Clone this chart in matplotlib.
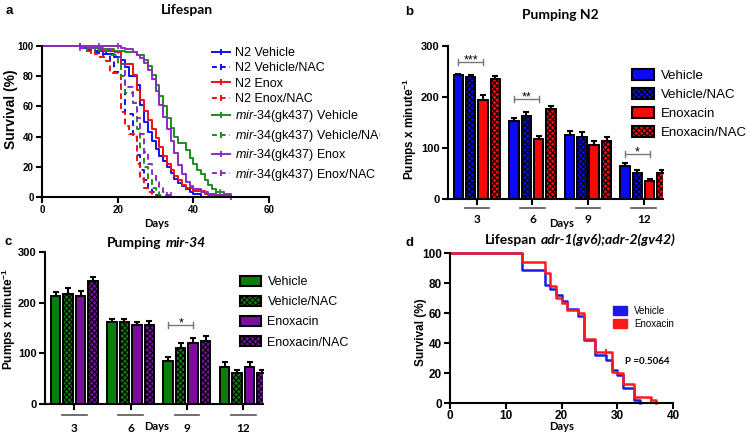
import matplotlib
matplotlib.use('Agg')
import matplotlib.pyplot as plt
import matplotlib.transforms as mtrans
from matplotlib.lines import Line2D
from matplotlib.patches import Patch, Rectangle
from matplotlib.offsetbox import TextArea, HPacker, AnnotationBbox
import numpy as np

plt.rcParams['font.family'] = ['Liberation Sans', 'DejaVu Sans']
plt.rcParams['mathtext.fontset'] = 'custom'
plt.rcParams['mathtext.it'] = 'Liberation Sans:italic'
plt.rcParams['mathtext.rm'] = 'Liberation Sans'
plt.rcParams['mathtext.bf'] = 'Liberation Sans:bold'
plt.rcParams['hatch.linewidth'] = 0.8

# ---------------- data: panel a (lifespan, Kaplan-Meier steps) -------------
a_labels = ["N2 Vehicle", "N2 Vehicle/NAC", "N2 Enox", "N2 Enox/NAC",
            r"$\mathit{mir}$-$\mathit{34}$(gk437) Vehicle",
            r"$\mathit{mir}$-$\mathit{34}$(gk437) Vehicle/NAC",
            r"$\mathit{mir}$-$\mathit{34}$(gk437) Enox",
            r"$\mathit{mir}$-$\mathit{34}$(gk437) Enox/NAC"]
n2_veh_t = [0, 11, 14, 17, 19, 21, 22, 23, 25, 26, 27, 28, 29, 30, 31, 32, 33, 34, 35, 36, 37, 38, 39, 40, 42]
n2_veh_s = [100, 99, 97, 95, 93, 91, 86, 80, 74, 61, 50, 43, 37, 32, 27, 24, 20, 16, 12, 9, 7, 5, 3, 2, 0]
n2_vnac_t = [0, 11, 13, 15, 18, 19, 21, 22, 24, 25, 26, 27, 28, 29, 30, 31]
n2_vnac_s = [100, 98, 96, 95, 90, 83, 71, 55, 40, 28, 18, 11, 6, 3, 1, 0]
n2_enox_t = [0, 12, 16, 20, 21, 24, 25, 26, 27, 28, 29, 30, 31, 32, 33, 34, 35, 36, 37, 38, 40, 43, 46, 48]
n2_enox_s = [100, 99, 97, 96, 88, 81, 71, 64, 57, 51, 45, 39, 33, 27, 22, 18, 14, 11, 8, 6, 4, 2, 1, 0]
n2_enac_t = [0, 12, 14, 15, 17, 18, 21, 22, 23, 25, 26, 27, 28, 29, 30]
n2_enac_s = [100, 97, 95, 93, 90, 82, 56, 47, 42, 22, 12, 6, 3, 1, 0]
m34_veh_t = [0, 12, 15, 19, 22, 25, 27, 28, 29, 30, 31, 32, 33, 34, 35, 36, 38, 39, 40, 41, 42, 43, 44, 45, 46, 48, 50]
m34_veh_s = [100, 99, 98, 97, 96, 94, 91, 87, 81, 74, 67, 60, 52, 46, 40, 36, 31, 26, 22, 18, 15, 11, 8, 5, 3, 2, 0]
m34_vnac_t = [0, 12, 15, 18, 20, 21, 22, 24, 25, 26, 27, 28, 29, 30, 31, 33]
m34_vnac_s = [100, 99, 97, 94, 88, 80, 69, 62, 45, 32, 20, 11, 6, 3, 1, 0]
m34_enox_t = [0, 21, 22, 24, 25, 26, 27, 28, 29, 30, 31, 32, 33, 34, 35, 36, 37, 38, 39, 40, 42, 44, 50]
m34_enox_s = [100, 99, 98, 96, 94, 92, 89, 84, 78, 70, 61, 53, 45, 37, 29, 21, 15, 10, 7, 5, 3, 1, 0]
m34_enac_t = [0, 10, 14, 18, 20, 21, 22, 24, 25, 26, 27, 28, 29, 30, 31, 32, 33, 35]
m34_enac_s = [100, 99, 98, 96, 93, 88, 73, 62, 52, 42, 30, 22, 15, 10, 6, 3, 1, 0]
a_cens = [[10, 15, 21], [12, 16], [12, 46], [13], [12, 47], [14, 31], [10, 15, 20, 50], [10, 33, 34]]

# ---------------- data: panel b (pumping N2) ----------------
days = ["3", "6", "9", "12"]
b_labels = ["Vehicle", "Vehicle/NAC", "Enoxacin", "Enoxacin/NAC"]
b_veh = [243, 152, 126, 64]
b_vnac = [240, 163, 122, 51]
b_enox = [195, 117, 106, 35]
b_enac = [235, 176, 114, 51]
b_veh_err = [3, 6, 7, 6]
b_vnac_err = [3, 8, 9, 5]
b_enox_err = [8, 6, 7, 4]
b_enac_err = [6, 7, 8, 5]
b_sig = [(0, 268, "***"), (1, 196, "**"), (3, 88, "*")]

# ---------------- data: panel c (pumping mir-34) ----------------
c_veh = [213, 161, 84, 74]
c_vnac = [218, 161, 110, 61]
c_enox = [213, 155, 121, 74]
c_enac = [243, 155, 125, 61]
c_veh_err = [8, 6, 8, 8]
c_vnac_err = [10, 6, 10, 7]
c_enox_err = [10, 6, 9, 8]
c_enac_err = [7, 8, 9, 6]
c_sig = [(2, 156, "*")]

# ---------------- data: panel d (lifespan adr-1;adr-2) ----------------
d_labels = ["Vehicle", "Enoxacin"]
d_veh_t = [0, 13, 17, 18, 19, 20, 21, 23, 24, 26, 28, 29, 30, 31, 33, 34]
d_veh_s = [100, 89, 79, 76, 72, 68, 63, 58, 42, 32, 29, 22, 19, 10, 2, 0]
d_enox_t = [0, 13, 17, 18, 19, 20, 21, 23, 24, 26, 29, 30, 31, 33, 36, 37]
d_enox_s = [100, 94, 87, 78, 70, 67, 62, 60, 43, 34, 21, 20, 13, 4, 2, 0]
d_cens = [[], [28, 36]]
d_pval = "P =0.5064"

# ---------------- layout helpers ----------------
W, H = 750, 434
fig = plt.figure(figsize=(7.5, 4.34), dpi=100)


def fx(px):
    return px / W


def fy(py):
    return 1 - py / H


def axes_px(l, t, r, b):
    return fig.add_axes([fx(l), fy(b), (r - l) / W, (b - t) / H])


def style(ax, lsize):
    for s in ['top', 'right']:
        ax.spines[s].set_visible(False)
    for s in ['left', 'bottom']:
        ax.spines[s].set_linewidth(1.5)
    ax.tick_params(direction='out', length=4, width=1.5, labelsize=lsize, pad=2)


def bold_ticks(ax, xt, yt, size):
    ax.set_xticks(xt[0], labels=xt[1], fontweight='bold', fontsize=size)
    ax.set_yticks(yt, labels=[str(v) for v in yt], fontweight='bold', fontsize=size)


def rich(x, y, parts, size=10):
    boxes = [TextArea(t, textprops=dict(fontsize=size, fontweight='bold', fontstyle=st,
                                        family=['Lato', 'DejaVu Sans']))
             for t, st in parts]
    pk = HPacker(children=boxes, align='baseline', pad=0, sep=3)
    ab = AnnotationBbox(pk, (fx(x), fy(y)), xycoords='figure fraction', frameon=False,
                        box_alignment=(0.5, 0.5), pad=0)
    fig.add_artist(ab)


def ftext(x, y, s, size=8, fam='Lato', ha='center', weight='bold'):
    fig.text(fx(x), fy(y), s, ha=ha, va='center', fontsize=size, fontweight=weight,
             family=[fam, 'DejaVu Sans'])


def step_at(t, s, c):
    v = s[0]
    for ti, si in zip(t, s):
        if ti <= c:
            v = si
    return v

# ---------------- panel a ----------------
axA = axes_px(42, 46, 269, 197)
a_series = [(n2_veh_t, n2_veh_s), (n2_vnac_t, n2_vnac_s), (n2_enox_t, n2_enox_s),
            (n2_enac_t, n2_enac_s), (m34_veh_t, m34_veh_s), (m34_vnac_t, m34_vnac_s),
            (m34_enox_t, m34_enox_s), (m34_enac_t, m34_enac_s)]
a_colors = ['#1010F0', '#1010F0', '#F01010', '#F01010', '#1E8C1E', '#1E8C1E', '#8A2BC2', '#8A2BC2']
a_dash = [False, True, False, True, False, True, False, True]
handles = []
for (t, s), col, dsh, cens, lab in zip(a_series, a_colors, a_dash, a_cens, a_labels):
    kw = dict(color=col, lw=1.4, clip_on=False)
    if dsh:
        kw['dashes'] = (3, 2)
    axA.step(t, s, where='post', **kw)
    axA.plot(cens, [step_at(t, s, c) for c in cens], ls='none', marker='|', ms=4,
             mew=1.2, color=col, clip_on=False)
    hk = dict(color=col, lw=1.4, marker='|', ms=5, mew=1.4)
    if dsh:
        hk['dashes'] = (2.5, 2)
    handles.append(Line2D([], [], **hk))
axA.set_xlim(0, 60)
axA.set_ylim(0, 100)
style(axA, 7)
bold_ticks(axA, ([0, 20, 40, 60], ['0', '20', '40', '60']), [0, 20, 40, 60, 80, 100], 7)
axA.set_ylabel("Survival (%)", fontsize=10, fontweight='bold')
axA.yaxis.set_label_coords(-0.104, 0.58)
legA = axA.legend(handles, a_labels, loc='upper left', bbox_to_anchor=(fx(212), fy(47)),
                  bbox_transform=fig.transFigure, frameon=False, fontsize=9,
                  handlelength=1.45, handletextpad=0.4, labelspacing=0.27, borderpad=0,
                  borderaxespad=0, numpoints=1)
# crop of the original panel at its right edge
fig.add_artist(Rectangle((fx(380), fy(141)), 30 / W, 17 / H, transform=fig.transFigure,
                         facecolor='white', edgecolor='none', zorder=5))

# ---------------- bar panels ----------------
PITCH = 0.222
BW = 0.17


def bar_panel(ax, series, errs, colors, hatches, sig, ppu, line_y, lab_pad):
    n = len(days)
    x = np.arange(n)
    offs = (np.arange(4) - 1.5) * PITCH
    for i in range(4):
        ax.bar(x + offs[i], series[i], width=BW, color=colors[i], edgecolor='black',
               linewidth=1.4, hatch=hatches[i], zorder=2)
        ax.errorbar(x + offs[i], series[i], yerr=[np.zeros(n), errs[i]], fmt='none',
                    ecolor='black', elinewidth=1.5, capsize=2.2, capthick=1.5, zorder=3)
    for g, yv, txt in sig:
        x0, x1 = g + offs[0], g + offs[2]
        h = 3 / ppu
        ax.plot([x0, x1], [yv, yv], color='#777777', lw=1, zorder=4)
        ax.plot([x0, x0], [yv - h, yv + h], color='#777777', lw=1, zorder=4)
        ax.plot([x1, x1], [yv - h, yv + h], color='#777777', lw=1, zorder=4)
        ax.text((x0 + x1) / 2, yv - 1 / ppu, txt, ha='center', va='baseline', fontsize=9)
    ax.set_xlim(-0.52, 3.35)
    ax.set_ylim(0, 300)
    style(ax, 8)
    bold_ticks(ax, (x, days), [0, 100, 200, 300], 8)
    ax.tick_params(axis='x', pad=lab_pad, labelsize=8.5)
    for lab in ax.get_xticklabels():
        lab.set_family(['Lato', 'DejaVu Sans'])
    tr = mtrans.blended_transform_factory(ax.transData, ax.transAxes)
    for g in x:
        ax.plot([g - 0.22, g + 0.22], [line_y, line_y], transform=tr, color='#555555',
                lw=1.2, clip_on=False)


def bar_legend(ax, colors, hatches, x, ytop, size, spacing):
    hs = [Patch(facecolor=c, edgecolor='black', linewidth=1.5, hatch=h)
          for c, h in zip(colors, hatches)]
    ax.legend(hs, b_labels, loc='upper left', bbox_to_anchor=(fx(x), fy(ytop)),
              bbox_transform=fig.transFigure, frameon=False, fontsize=size,
              handlelength=1.65, handleheight=0.85, handletextpad=0.55,
              labelspacing=spacing, borderpad=0, borderaxespad=0)


hatches = [None, 'xxxxxx', None, 'xxxxxx']
axB = axes_px(448, 46, 663, 199)
axB.set_zorder(6)
b_cols = ['#0A0AF5', '#0A0AF5', '#F50A0A', '#F50A0A']
bar_panel(axB, [b_veh, b_vnac, b_enox, b_enac], [b_veh_err, b_vnac_err, b_enox_err, b_enac_err],
          b_cols, hatches, b_sig, 153 / 300, -9 / 153, 7)
axB.set_ylabel("Pumps x minute$^{\\mathbf{-1}}$", fontsize=8.5, fontweight='bold')
axB.yaxis.set_label_coords(-0.135, 0.46)
bar_legend(axB, b_cols, hatches, 632, 69, 9.5, 0.47)

axC = axes_px(45, 252, 263, 404)
c_cols = ['#0C7C0C', '#0C7C0C', '#7A0EA0', '#7A0EA0']
bar_panel(axC, [c_veh, c_vnac, c_enox, c_enac], [c_veh_err, c_vnac_err, c_enox_err, c_enac_err],
          c_cols, hatches, c_sig, 152 / 300, -11 / 152, 10)
axC.set_ylabel("Pumps x minute$^{\\mathbf{-1}}$", fontsize=8.5, fontweight='bold')
axC.yaxis.set_label_coords(-0.124, 0.56)
bar_legend(axC, c_cols, hatches, 240, 276, 9, 0.62)

# ---------------- panel d ----------------
axD = axes_px(450, 253, 673, 403)
d_cols = ['#1A1AE6', '#FF1A1A']
for (t, s), col, cens in zip([(d_veh_t, d_veh_s), (d_enox_t, d_enox_s)], d_cols, d_cens):
    axD.step(t, s, where='post', color=col, lw=1.8, clip_on=False)
    if cens:
        axD.plot(cens, [step_at(t, s, c) for c in cens], ls='none', marker='|', ms=4,
                 mew=1.3, color=col, clip_on=False)
axD.set_xlim(0, 40)
axD.set_ylim(0, 100)
style(axD, 8.5)
bold_ticks(axD, ([0, 10, 20, 30, 40], ['0', '10', '20', '30', '40']), [0, 20, 40, 60, 80, 100], 8.5)
axD.tick_params(axis='x', pad=1)
axD.set_ylabel("Survival (%)", fontsize=8.5, fontweight='bold')
axD.yaxis.set_label_coords(-0.103, 0.47)
dh = [Patch(facecolor=c, edgecolor=c, linewidth=1) for c in d_cols]
axD.legend(dh, d_labels, loc='upper left', bbox_to_anchor=(fx(613), fy(306)),
           bbox_transform=fig.transFigure, frameon=False, fontsize=7,
           handlelength=1.45, handleheight=1.1, handletextpad=0.7, labelspacing=0.3,
           borderpad=0, borderaxespad=0)
ftext(625, 361, d_pval, size=7, ha='left')

# ---------------- titles, letters, axis names ----------------
for ch, x, y in [('a', 9, 11), ('b', 409, 12), ('c', 8, 242), ('d', 410, 243)]:
    fig.text(fx(x), fy(y), ch, ha='center', va='center', fontsize=9.5, fontweight='bold')
rich(187, 10, [("Lifespan", 'normal')])
rich(560, 15, [("Pumping N2", 'normal')])
rich(156, 243, [("Pumping", 'normal'), ("mir-34", 'italic')])
rich(580, 240, [("Lifespan", 'normal'), ("adr-1(gv6);adr-2(gv42)", 'italic')])
ftext(157, 223, "Days")
ftext(562, 223, "Days")
ftext(157, 427, "Days")
ftext(562, 427, "Days")

fig.savefig("out.png", dpi=100)
